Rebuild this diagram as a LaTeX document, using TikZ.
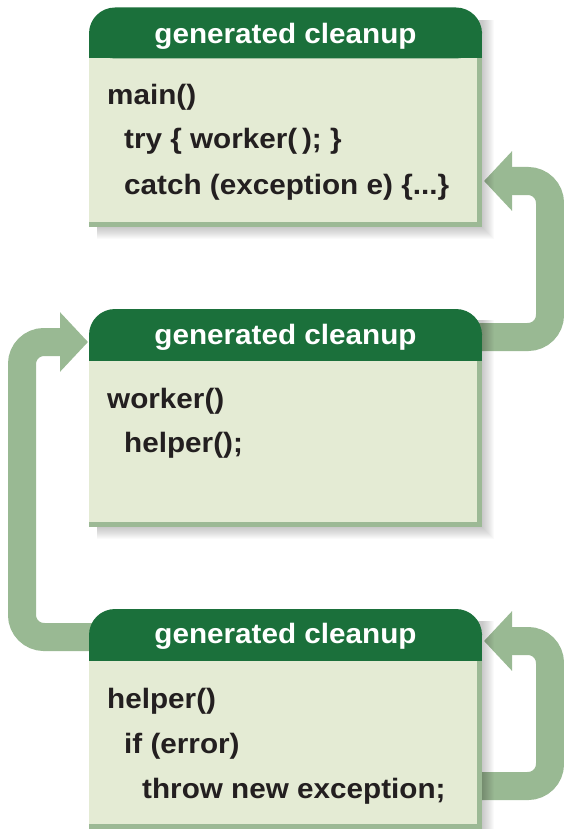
\documentclass[tikz,border=0pt]{standalone}
\usepackage{fontspec}
\setmainfont{Liberation Sans}[FakeStretch=1.06]
\usetikzlibrary{arrows.meta}
\definecolor{hdr}{HTML}{1B703B}
\definecolor{bodyfill}{HTML}{E4EBD4}
\definecolor{bodyedge}{HTML}{9CB995}
\definecolor{flow}{HTML}{99B993}
\definecolor{codec}{HTML}{231F20}
\begin{document}
\begin{tikzpicture}[x=1pt,y=-1pt,
  hdrbox/.style={rectangle, rounded corners=26pt, fill=hdr, minimum width=393pt, minimum height=51pt, inner sep=0pt},
  hdrtext/.style={anchor=base, inner sep=0pt, text=white, font=\fontsize{28}{34}\selectfont\bfseries},
  bodybox/.style={rectangle, fill=bodyedge, anchor=north west, minimum width=393pt, inner sep=0pt},
  code/.style={anchor=base west, inner sep=0pt, text=codec, font=\fontsize{28}{34}\selectfont\bfseries},
  flowarrow/.style={draw=flow, line width=28pt, rounded corners=22pt, -{Triangle[length=28pt,width=58pt]}}
]
\useasboundingbox (0,0) rectangle (564,829);

% connector end points
\coordinate (workerOut) at (470,337);
\coordinate (mainIn) at (484,181);
\coordinate (helperOutL) at (100,637);
\coordinate (workerIn) at (88,342);
\coordinate (helperOutR) at (470,786);
\coordinate (helperIn) at (484,641);

% connectors (behind boxes)
\draw[flowarrow] (workerOut) -| (550,181) -- (mainIn);
\draw[flowarrow] (helperOutL) -| (22,342) -- (workerIn);
\draw[flowarrow] (helperOutR) -| (550,641) -- (helperIn);

% ---------- box 1: main ----------
\foreach \k in {1,...,12}
  \fill[black, opacity=0.018] (97,20) rectangle (482+\k,227+\k);
\node[bodybox, minimum height=169pt] (b1) at (89,58) {};
\fill[bodyfill] (b1.north west) rectangle ([xshift=-5pt,yshift=5pt]b1.south east);
\fill[hdr] (89,33) rectangle (482,58.5);
\node[hdrbox] (h1) at (285.5,33) {};
\node[hdrtext] (h1t) at (285.5,43.5) {generated cleanup};
\node[code] (m1) at (107,105) {main()};
\node[code] (m2) at (124,149) {try \{ worker(\,); \}};
\node[code] (m3) at (124,194) {catch (exception e) \{...\}};

% ---------- box 2: worker ----------
\foreach \k in {1,...,12}
  \fill[black, opacity=0.018] (97,320) rectangle (482+\k,527+\k);
\node[bodybox, minimum height=167pt] (b2) at (89,360) {};
\fill[bodyfill] (b2.north west) rectangle ([xshift=-5pt,yshift=5pt]b2.south east);
\fill[hdr] (89,334) rectangle (482,360.5);
\node[hdrbox] (h2) at (285.5,334.5) {};
\node[hdrtext] (h2t) at (285.5,344.5) {generated cleanup};
\node[code] (w1) at (107,408) {worker()};
\node[code] (w2) at (124,452) {helper();};

% ---------- box 3: helper ----------
\foreach \k in {1,...,12}
  \fill[black, opacity=0.018] (97,621) rectangle (482+\k,829+\k);
\node[bodybox, minimum height=169pt] (b3) at (89,660) {};
\fill[bodyfill] (b3.north west) rectangle ([xshift=-5pt,yshift=5pt]b3.south east);
\fill[hdr] (89,634) rectangle (482,660.5);
\node[hdrbox] (h3) at (285.5,634.5) {};
\node[hdrtext] (h3t) at (285.5,643.5) {generated cleanup};
\node[code] (p1) at (107,708) {helper()};
\node[code] (p2) at (124,753) {if (error)};
\node[code] (p3) at (142,798) {throw new exception;};
\end{tikzpicture}
\end{document}
